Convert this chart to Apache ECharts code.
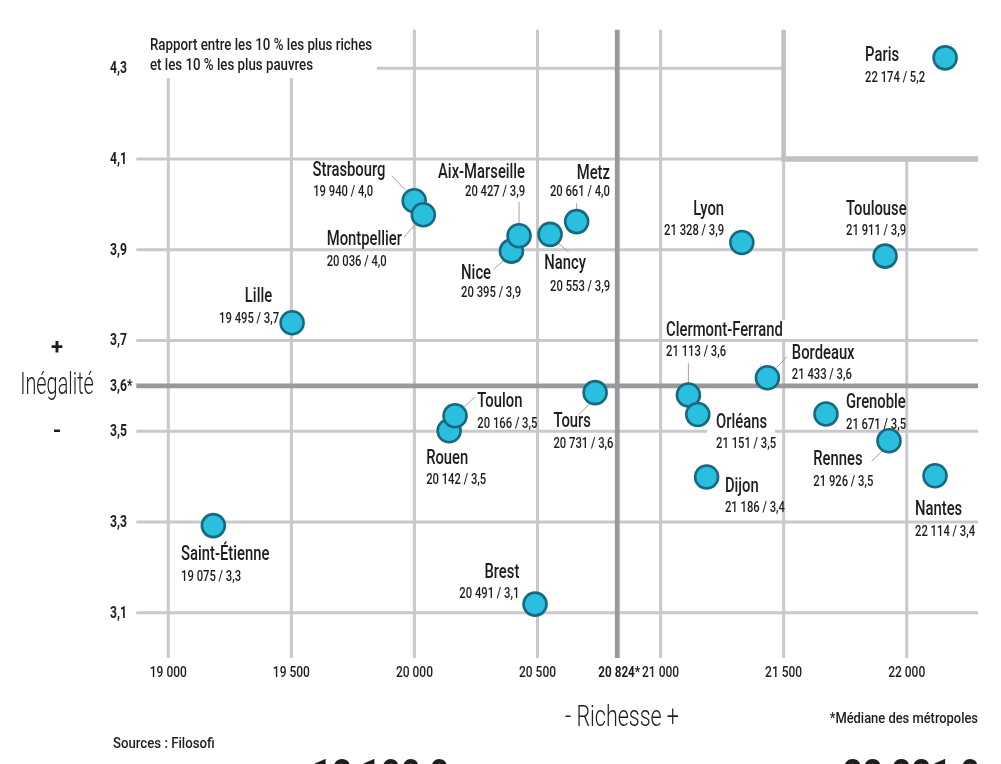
<!DOCTYPE html>
<html><head><meta charset="utf-8">
<script src="https://cdn.jsdelivr.net/npm/echarts@6/dist/echarts.min.js"></script>
<style>html,body{margin:0;padding:0;background:#fff}#c{width:1001px;height:764px}</style>
</head><body><div id="c"></div>
<script>
// ---- data ----
const cities = ['Paris','Strasbourg','Montpellier','Nice','Aix-Marseille','Nancy','Metz','Lyon','Toulouse','Lille',
  'Clermont-Ferrand','Orléans','Bordeaux','Grenoble','Rennes','Nantes','Dijon','Rouen','Toulon','Tours','Saint-Étienne','Brest'];
const wealth = [22156,19999,20036,20394,20425,20551,20659,21330,21912,19503,
  21113,21151,21434,21672,21928,22115,21187,20141,20165,20734,19183,20490];
const ratio = [4.323,4.008,3.977,3.897,3.931,3.934,3.962,3.916,3.886,3.739,
  3.580,3.537,3.618,3.538,3.479,3.402,3.399,3.501,3.534,3.585,3.292,3.119];
const valueText = ['22 174 / 5,2','19 940 / 4,0','20 036 / 4,0','20 395 / 3,9','20 427 / 3,9','20 553 / 3,9','20 661 / 4,0',
  '21 328 / 3,9','21 911 / 3,9','19 495 / 3,7','21 113 / 3,6','21 151 / 3,5','21 433 / 3,6','21 671 / 3,5','21 926 / 3,5',
  '22 114 / 3,4','21 186 / 3,4','20 142 / 3,5','20 166 / 3,5','20 731 / 3,6','19 075 / 3,3','20 491 / 3,1'];
const xTicks = [19000,19500,20000,20500,21000,21500,22000];
const xMedian = 20824;
const yTicks = [3.1,3.3,3.5,3.7,3.9,4.1,4.3];
const yMedian = 3.6;
const titleLines = ['Rapport entre les 10 % les plus riches','et les 10 % les plus pauvres'];

// ---- label layout (pixel offsets from the point) ----
const layout = {
  'Paris':['left',-80,-2.4,-80,19.3],
  'Strasbourg':['left',-101.6,-31,-101,-9.8],
  'Montpellier':['left',-96.6,24.2,-96.6,46],
  'Nice':['left',-50.3,21.8,-50.3,41],
  'Aix-Marseille':['right',6,-64,6,-44.5],
  'Nancy':['left',-5.7,29,0,52],
  'Metz':['right',33.3,-48.7,33.3,-30.4],
  'Lyon':['right',-17.7,-33.5,-17.7,-12.7],
  'Toulouse':['left',-39,-46.8,-39,-26],
  'Lille':['right',-20,-27,-13,-5],
  'Clermont-Ferrand':['left',-22.3,-65,-22.3,-43.3],
  'Orléans':['left',18.3,7.2,18.3,29],
  'Bordeaux':['left',24.4,-25.2,24.4,-3],
  'Grenoble':['left',20,-11.5,20,10.7],
  'Rennes':['left',-75.7,18.2,-75.7,40.7],
  'Nantes':['left',-20,33.5,-20,55.1],
  'Dijon':['left',18.3,9,18.3,30.2],
  'Rouen':['left',-23,27.1,-23,48.8],
  'Toulon':['left',22.3,-14.4,22.3,7.8],
  'Tours':['left',-41.7,28.5,-41.7,50.6],
  'Saint-Étienne':['left',-32.3,28.8,-32.3,51],
  'Brest':['right',-15.7,-32.1,-15.7,-10.5]
};
const leaders = {
  'Strasbourg':[-22.6,-25,-8.3,-10.3],
  'Montpellier':[-19.3,22.3,-8.3,10],
  'Aix-Marseille':[0,-34,0,-9.7],
  'Nice':[-18,18.3,-7.3,9],
  'Nancy':[8.3,9,18.3,17.4],
  'Metz':[0,-18.4,0,-11.7],
  'Clermont-Ferrand':[0,-31.7,0,-11],
  'Bordeaux':[9.4,-10.4,19.4,-21],
  'Rennes':[-17.3,20.7,-7.3,10.7],
  'Toulon':[9.3,-9,20,-19],
  'Tours':[-16.7,22.3,-5,10.6]
};
const boxes = {
  'Clermont-Ferrand':[-25,-75,127,19],
  'Orléans':[9.3,-4.3,68,42]
};

const FONT = "Roboto,'Noto Sans',sans-serif";
const INK = '#1f1c1d';
const fmtK = v => String(v).replace(/\B(?=(\d{3})+(?!\d))/g, ' ');

const chart = echarts.init(document.getElementById('c'), null, {renderer:'canvas'});
const X0 = 18870, X1 = 22290, Y0 = 3.0, Y1 = 4.385;
chart.setOption({
  animation:false,
  backgroundColor:'#fff',
  grid:{left:136.3, width:841.8, top:29.7, height:628.4},
  xAxis:{type:'value', min:X0, max:X1, axisLine:{show:false}, axisTick:{show:false},
    splitLine:{show:false}, axisLabel:{show:false}},
  yAxis:{type:'value', min:Y0, max:Y1, axisLine:{show:false}, axisTick:{show:false},
    splitLine:{show:false}, axisLabel:{show:false}},
  series:[{type:'scatter', z:2, silent:true,
    data:wealth.map((x,i)=>[x, ratio[i]]),
    symbol:'circle', symbolSize:23,
    itemStyle:{color:'#2bbfdf', borderColor:'#17697f', borderWidth:2.6, opacity:1}}]
});

const P = (x,y) => chart.convertToPixel({gridIndex:0},[x,y]);
const xl = P(X0,Y0)[0], xr = P(X1,Y0)[0], yt = P(X0,Y1)[1], yb = P(X0,Y0)[1];
const G = [];
const GRID = '#c9c9cd', THICK = '#c1c1c5', MED = '#98989d';
const line = (x1,y1,x2,y2,c,w,z) => G.push({type:'line', z:z, silent:true,
  shape:{x1,y1,x2,y2}, style:{stroke:c, lineWidth:w}});
const y41 = P(X0,4.1)[1], x215 = P(21500,Y0)[0];
xTicks.forEach(v => {
  const x = P(v,Y0)[0];
  if (v===21500) { line(x,yt,x,y41,THICK,4.6,1); line(x,y41,x,yb,GRID,3,0); return; }
  let top = yt;
  if (v<=19500) top = 78;
  if (v===22000) top = y41;
  line(x,top,x,yb,GRID,3,0);
});
yTicks.forEach(v => {
  const y = P(X0,v)[1];
  if (Math.abs(v-4.3)<1e-9) { line(377,y,x215,y,GRID,3,0); return; }
  if (Math.abs(v-4.1)<1e-9) { line(xl,y,x215,y,GRID,3,0); line(x215-2.3,y,xr,y,THICK,5.5,1); return; }
  line(xl,y,xr,y,GRID,3,0);
});
const xm = P(xMedian,Y0)[0], ym = P(X0,yMedian)[1];
line(xm,yt,xm,yb,MED,4.8,1);
line(xl,ym,xr,ym,MED,4.8,1);

const txt = (t,x,y,size,sx,opt) => G.push({type:'text', z:5, silent:true, x:x, y:y, scaleX:sx,
  style:Object.assign({text:t, x:0, y:0, fill:INK, fontSize:size, fontFamily:FONT, fontWeight:500, align:'left', verticalAlign:'middle'}, opt||{})});

// axis tick labels
xTicks.concat([xMedian]).forEach(v => {
  const x = P(v,Y0)[0];
  if (v===xMedian) txt(fmtK(v)+'*', x+2, 673, 15, 0.78, {align:'center', fontWeight:'bold'});
  else txt(fmtK(v), x, 673, 15, 0.8, {align:'center'});
});
yTicks.concat([yMedian]).forEach(v => {
  const y = P(X0,v)[1];
  const s = v.toFixed(1).replace('.',',');
  txt(Math.abs(v-yMedian)<1e-9 ? s+'*' : s, 110, y+1, 16, 0.76, {fontWeight:'bold'});
});

cities.forEach((c,i) => {
  const [px,py] = P(wealth[i], ratio[i]);
  const L = layout[c];
  if (boxes[c]) { const b = boxes[c];
    G.push({type:'rect', z:1, silent:true, shape:{x:px+b[0], y:py+b[1], width:b[2], height:b[3]}, style:{fill:'#fff'}}); }
  if (leaders[c]) { const l = leaders[c]; line(px+l[0],py+l[1],px+l[2],py+l[3],'#a3a3a6',1,1); }
  txt(c, px+L[1], py+L[2]+1, 20, 0.74, {align:L[0]});
  txt(valueText[i], px+L[3], py+L[4]+1, 15, 0.75, {align:L[0]});
});

txt(titleLines[0],150,46,16,0.83);
txt(titleLines[1],150,66,16,0.83);
txt('+',57,348,22,1,{align:'center', fontWeight:'bold'});
txt('Inégalité',57,386,32,0.62,{align:'center', fontWeight:300});
txt('-',57,432,22,1,{align:'center', fontWeight:'bold'});
txt('- Richesse +',622,719,29,0.74,{align:'center', fontWeight:300});
txt('*Médiane des métropoles',978,719,15,0.86,{align:'right'});
txt('Sources : Filosofi',113,744,15,0.88);
txt('18 100,0',312,778,42,0.83,{fontWeight:'bold'});
txt('22 221,0',980,778,42,0.83,{align:'right', fontWeight:'bold'});

chart.setOption({graphic:{elements:G}});
</script></body></html>
